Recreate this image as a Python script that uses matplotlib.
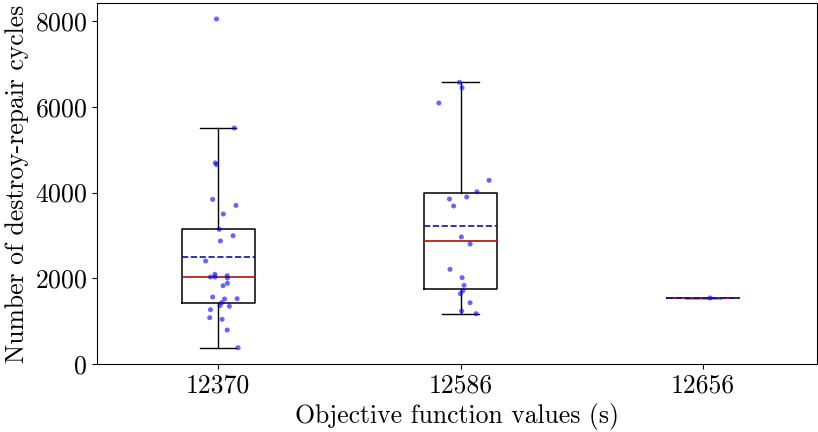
import matplotlib
matplotlib.use("Agg")
import matplotlib.pyplot as plt
import numpy as np

plt.rcParams['font.family'] = ['cmr10', 'DejaVu Serif']
plt.rcParams['axes.formatter.use_mathtext'] = True
plt.rcParams['mathtext.fontset'] = 'cm'

categories = ["12370", "12586", "12656"]

cycles_12370 = [8047, 5504, 4690, 4650, 3840, 3700, 3498, 3141, 2992, 2868,
                2402, 2092, 2029, 2029, 2059, 2005, 1882, 1826, 1562, 1516,
                1523, 1430, 1360, 1345, 1266, 1080, 1042, 793, 380]
jitter_12370 = [-0.007, 0.066, -0.012, -0.007, -0.023, 0.073, 0.021, 0.004, 0.061, 0.009,
                -0.052, -0.014, -0.032, -0.013, 0.037, 0.038, 0.038, 0.020, -0.023, 0.026,
                0.078, 0.014, 0.007, 0.046, -0.032, -0.035, 0.016, 0.037, 0.082]

cycles_12586 = [6570, 6443, 6087, 4284, 4018, 3895, 3848, 3685, 2962, 2798,
                2208, 2013, 1835, 1710, 1640, 1430, 1236, 1173]
jitter_12586 = [-0.005, 0.006, -0.090, 0.117, 0.067, 0.025, -0.046, -0.029, 0.003, 0.039,
                -0.044, 0.006, 0.014, 0.009, -0.001, 0.039, 0.004, 0.064]

cycles_12656 = [1540]
jitter_12656 = [0.029]

data = [cycles_12370, cycles_12586, cycles_12656]
jitters = [jitter_12370, jitter_12586, jitter_12656]

fig = plt.figure(figsize=(8.18, 4.32), dpi=100)
ax = fig.add_axes([97/818, 68/432, (817-97)/818, (429-68)/432])

positions = np.arange(1, len(categories) + 1)
ax.boxplot(data, positions=positions, widths=0.3, showfliers=False,
           showmeans=True, meanline=True,
           boxprops=dict(color='black', linewidth=1.1),
           whiskerprops=dict(color='black', linewidth=1.0),
           capprops=dict(color='black', linewidth=1.0),
           medianprops=dict(color='firebrick', linewidth=1.3),
           meanprops=dict(color='#1010a0', linewidth=1.2, linestyle='--'))

for pos, vals, jit in zip(positions, data, jitters):
    ax.scatter(pos + np.array(jit), vals, s=13, color='blue', alpha=0.6,
               edgecolors='none', zorder=3)

ax.set_xticks(positions)
ax.set_xticklabels(categories)
ax.set_xlim(0.5, 3.47)
ax.set_ylim(0, 8420)
ax.set_yticks([0, 2000, 4000, 6000, 8000])
ax.tick_params(labelsize=18.5)
ax.set_xlabel("Objective function values (s)", fontsize=18.5)
ax.set_ylabel("Number of destroy-repair cycles", fontsize=18.5)

fig.savefig("out.png", dpi=100)
